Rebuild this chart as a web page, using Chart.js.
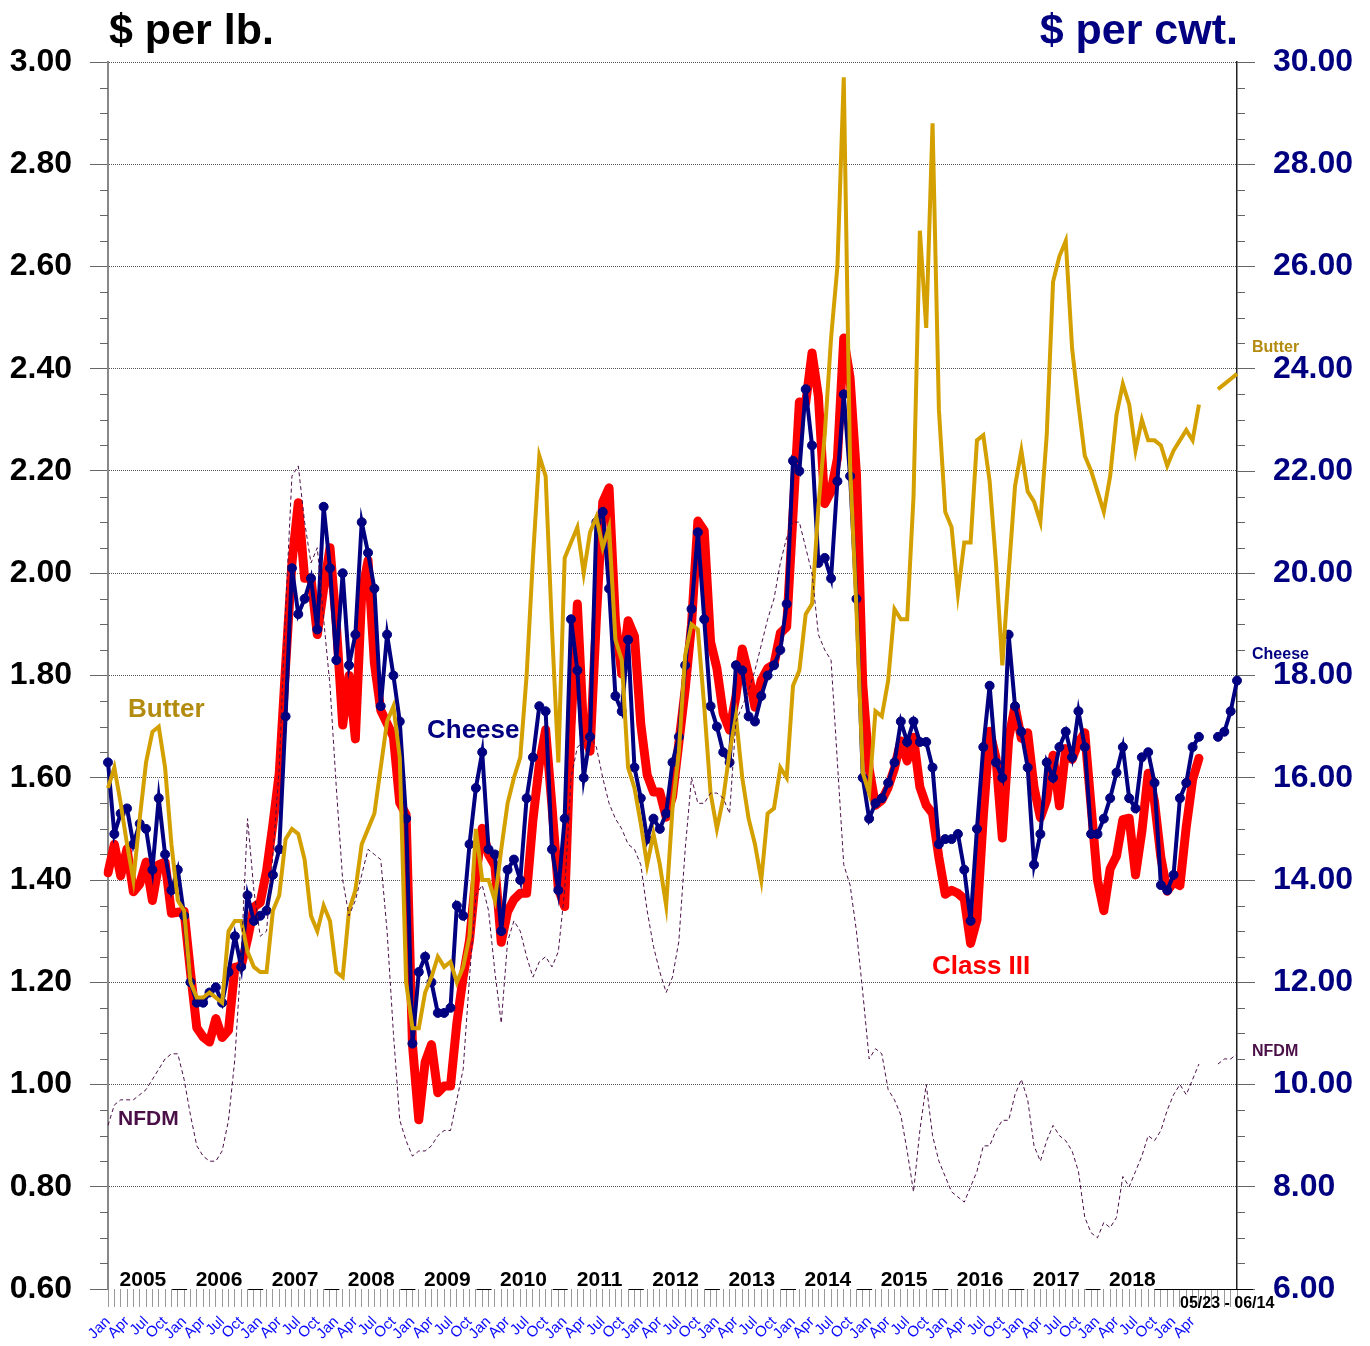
<!DOCTYPE html>
<html>
<head>
<meta charset="utf-8">
<title>Cheese, Butter, NFDM and Class III prices</title>
<script src="https://cdn.jsdelivr.net/npm/chart.js@4.4.1/dist/chart.umd.min.js"></script>
<style>
  html, body { margin: 0; padding: 0; background: #fff; }
  #wrap { position: relative; width: 1370px; height: 1346px; }
</style>
</head>
<body>
<div id="wrap"><canvas id="myChart" width="1370" height="1346"></canvas></div>
<script>
// setup
const FONT = 'Arial, "Liberation Sans", Helvetica, sans-serif';
const MONTH_NAMES = ['Jan', 'Feb', 'Mar', 'Apr', 'May', 'Jun', 'Jul', 'Aug', 'Sep', 'Oct', 'Nov', 'Dec'];
const YEARS = [2005, 2006, 2007, 2008, 2009, 2010, 2011, 2012, 2013, 2014, 2015, 2016, 2017, 2018];
const WEEKS = ['05/23', '05/30', '06/06', '06/14'];
const LEFT_TICKS = [0.60, 0.80, 1.00, 1.20, 1.40, 1.60, 1.80, 2.00, 2.20, 2.40, 2.60, 2.80, 3.00];
const RIGHT_TICKS = [6, 8, 10, 12, 14, 16, 18, 20, 22, 24, 26, 28, 30];

// monthly, Jan 2005 - May 2019, $ per lb.
const CHEESE = [
  1.63, 1.49, 1.53, 1.54, 1.47, 1.51, 1.50, 1.42, 1.56, 1.45, 1.38, 1.42,
  1.33, 1.20, 1.16, 1.16, 1.18, 1.19, 1.16, 1.22, 1.29, 1.23, 1.37, 1.32,
  1.33, 1.34, 1.41, 1.46, 1.72, 2.01, 1.92, 1.95, 1.99, 1.89, 2.13, 2.01,
  1.83, 2.00, 1.82, 1.88, 2.10, 2.04, 1.97, 1.74, 1.88, 1.80, 1.71, 1.52,
  1.08, 1.22, 1.25, 1.20, 1.14, 1.14, 1.15, 1.35, 1.33, 1.47, 1.58, 1.65,
  1.46, 1.45, 1.30, 1.42, 1.44, 1.40, 1.56, 1.64, 1.74, 1.73, 1.46, 1.38,
  1.52, 1.91, 1.81, 1.60, 1.68, 2.10, 2.12, 1.97, 1.76, 1.73, 1.87, 1.62,
  1.56, 1.48, 1.52, 1.50, 1.53, 1.63, 1.68, 1.82, 1.93, 2.08, 1.91, 1.74,
  1.70, 1.65, 1.63, 1.82, 1.81, 1.72, 1.71, 1.76, 1.80, 1.82, 1.85, 1.94,
  2.22, 2.20, 2.36, 2.25, 2.02, 2.03, 1.99, 2.18, 2.35, 2.19, 1.95, 1.60,
  1.52, 1.55, 1.56, 1.59, 1.63, 1.71, 1.67, 1.71, 1.67, 1.67, 1.62, 1.47,
  1.48, 1.48, 1.49, 1.42, 1.32, 1.50, 1.66, 1.78, 1.63, 1.60, 1.88, 1.74,
  1.69, 1.62, 1.43, 1.49, 1.63, 1.60, 1.66, 1.69, 1.64, 1.73, 1.66, 1.49,
  1.49, 1.52, 1.56, 1.61, 1.66, 1.56, 1.54, 1.64, 1.65, 1.59, 1.39, 1.38,
  1.41, 1.56, 1.59, 1.66, 1.68
];
const BUTTER = [
  1.58, 1.62, 1.55, 1.47, 1.40, 1.52, 1.63, 1.69, 1.70, 1.62, 1.47, 1.36,
  1.34, 1.20, 1.17, 1.17, 1.18, 1.17, 1.16, 1.30, 1.32, 1.32, 1.26, 1.23,
  1.22, 1.22, 1.34, 1.37, 1.48, 1.50, 1.49, 1.44, 1.33, 1.30, 1.35, 1.32,
  1.22, 1.21, 1.34, 1.38, 1.47, 1.50, 1.53, 1.62, 1.71, 1.74, 1.64, 1.20,
  1.11, 1.11, 1.18, 1.21, 1.25, 1.23, 1.24, 1.20, 1.23, 1.29, 1.50, 1.40,
  1.40, 1.36, 1.46, 1.55, 1.60, 1.64, 1.80, 2.03, 2.23, 2.19, 1.89, 1.63,
  2.03, 2.06, 2.09, 2.00, 2.08, 2.11, 2.05, 2.09, 1.87, 1.83, 1.62, 1.58,
  1.51, 1.43, 1.49, 1.43, 1.35, 1.54, 1.65, 1.84, 1.90, 1.89, 1.74, 1.57,
  1.50, 1.56, 1.65, 1.72, 1.60, 1.52, 1.47, 1.40, 1.53, 1.54, 1.62, 1.60,
  1.78, 1.81, 1.92, 1.94, 2.13, 2.27, 2.46, 2.60, 2.97, 2.21, 1.93, 1.61,
  1.57, 1.73, 1.72, 1.79, 1.93, 1.91, 1.91, 2.15, 2.67, 2.48, 2.88, 2.32,
  2.12, 2.09, 1.96, 2.06, 2.06, 2.26, 2.27, 2.18, 2.02, 1.82, 2.00, 2.17,
  2.24, 2.16, 2.14, 2.10, 2.27, 2.57, 2.62, 2.65, 2.44, 2.33, 2.23, 2.20,
  2.16, 2.12, 2.19, 2.31, 2.37, 2.33, 2.24, 2.30, 2.26, 2.26, 2.25, 2.21,
  2.24, 2.26, 2.28, 2.26, 2.33
];
const NFDM = [
  0.92, 0.96, 0.97, 0.97, 0.97, 0.98, 0.99, 1.01, 1.03, 1.05, 1.06, 1.06,
  1.01, 0.94, 0.88, 0.86, 0.85, 0.85, 0.87, 0.93, 1.05, 1.25, 1.52, 1.38,
  1.29, 1.30, 1.45, 1.62, 1.93, 2.19, 2.21, 2.10, 2.02, 2.05, 1.91, 1.78,
  1.58, 1.40, 1.33, 1.36, 1.41, 1.46, 1.45, 1.44, 1.30, 1.10, 0.93, 0.89,
  0.86, 0.87, 0.87, 0.88, 0.90, 0.91, 0.91, 0.97, 1.03, 1.21, 1.37, 1.39,
  1.34, 1.22, 1.12, 1.28, 1.32, 1.30, 1.25, 1.21, 1.24, 1.25, 1.23, 1.26,
  1.38, 1.60, 1.66, 1.67, 1.68, 1.66, 1.60, 1.55, 1.52, 1.50, 1.47, 1.46,
  1.43, 1.34, 1.27, 1.22, 1.18, 1.21, 1.28, 1.46, 1.60, 1.55, 1.55, 1.57,
  1.57, 1.56, 1.53, 1.71, 1.74, 1.77, 1.81, 1.86, 1.91, 1.95, 2.02, 2.07,
  2.10, 2.10, 2.05, 2.00, 1.88, 1.85, 1.83, 1.63, 1.43, 1.39, 1.30, 1.18,
  1.05, 1.07, 1.06, 0.99, 0.97, 0.94, 0.87, 0.79, 0.91, 1.00, 0.90, 0.85,
  0.82, 0.79, 0.78, 0.77, 0.80, 0.83, 0.88, 0.88, 0.91, 0.93, 0.93, 0.98,
  1.01, 0.97, 0.88, 0.85, 0.89, 0.92, 0.90, 0.89, 0.87, 0.83, 0.74, 0.71,
  0.70, 0.73, 0.72, 0.74, 0.82, 0.80, 0.83, 0.86, 0.90, 0.89, 0.91, 0.95,
  0.98, 1.00, 0.98, 1.01, 1.04
];
// monthly, $ per cwt.
const CLASS_III = [
  14.14, 14.70, 14.08, 14.61, 13.77, 13.92, 14.35, 13.60, 14.30, 14.35, 13.35, 13.37,
  13.39, 12.20, 11.11, 10.93, 10.83, 11.29, 10.92, 11.06, 12.29, 12.32, 12.84, 13.47,
  13.56, 14.18, 15.09, 16.09, 18.18, 20.20, 21.38, 19.90, 19.90, 18.80, 19.70, 20.50,
  19.00, 17.03, 18.00, 16.76, 19.60, 20.25, 18.24, 17.32, 17.06, 16.80, 15.51, 15.28,
  10.78, 9.31, 10.44, 10.78, 9.84, 9.97, 9.97, 11.20, 12.11, 12.82, 14.08, 15.01,
  14.50, 14.28, 12.78, 13.38, 13.62, 13.74, 13.74, 15.18, 16.26, 16.94, 15.44, 13.83,
  13.48, 17.00, 19.40, 16.87, 16.52, 19.11, 21.39, 21.67, 19.07, 18.03, 19.07, 18.77,
  17.05, 16.06, 15.72, 15.72, 15.23, 15.63, 16.68, 17.73, 19.00, 21.02, 20.83, 18.66,
  18.14, 17.25, 16.93, 17.59, 18.52, 18.02, 17.38, 17.91, 18.14, 18.22, 18.83, 18.95,
  21.15, 23.35, 23.33, 24.31, 23.46, 21.36, 21.60, 22.25, 24.60, 23.82, 21.94, 17.82,
  16.18, 15.46, 15.56, 15.81, 16.19, 16.72, 16.33, 16.79, 15.82, 15.46, 15.30, 14.44,
  13.72, 13.80, 13.74, 13.63, 12.76, 13.22, 15.24, 16.91, 16.39, 14.82, 16.76, 17.40,
  16.77, 16.88, 15.81, 15.22, 15.57, 16.44, 15.45, 16.57, 16.36, 16.69, 16.88, 15.44,
  14.00, 13.40, 14.22, 14.47, 15.18, 15.21, 14.10, 14.95, 16.09, 15.53, 14.44, 13.78,
  13.96, 13.89, 15.04, 15.96, 16.38
];
// weekly, 05/23 - 06/14
const CHEESE_WEEKLY = [1.68, 1.69, 1.73, 1.79];
const BUTTER_WEEKLY = [2.36, 2.37, 2.38, 2.39];
const NFDM_WEEKLY = [1.04, 1.05, 1.05, 1.06];

// categories: months, two empty slots, then the weeks
const labels = [];
for (let y = 2005; y <= 2019; y++) {
  for (let m = 0; m < 12; m++) {
    if (labels.length < CHEESE.length) labels.push(MONTH_NAMES[m] + ' ' + y);
  }
}
const N_MONTHS = labels.length;
labels.push('', '', ...WEEKS);

const pad = (monthly, weekly) => {
  const out = monthly.slice();
  out.push(null, null);
  for (let i = 0; i < WEEKS.length; i++) out.push(weekly ? weekly[i] : null);
  return out;
};

const data = {
  labels,
  datasets: [{
    label: 'NFDM',
    data: pad(NFDM, NFDM_WEEKLY),
    borderColor: '#4B0F48',
    borderWidth: 1,
    borderDash: [4, 3],
    pointRadius: 0,
    yAxisID: 'y',
    order: 1
  }, {
    label: 'Butter',
    data: pad(BUTTER, BUTTER_WEEKLY),
    borderColor: '#D4A000',
    borderWidth: 4,
    pointRadius: 0,
    yAxisID: 'y',
    order: 2
  }, {
    label: 'Cheese',
    data: pad(CHEESE, CHEESE_WEEKLY),
    borderColor: '#000080',
    borderWidth: 4,
    pointRadius: 4.5,
    pointBorderWidth: 1,
    pointBackgroundColor: '#000080',
    pointBorderColor: '#000080',
    yAxisID: 'y',
    order: 3
  }, {
    label: 'Class III',
    data: pad(CLASS_III, null),
    borderColor: '#FF0000',
    borderWidth: 9,
    borderJoinStyle: 'round',
    borderCapStyle: 'round',
    pointRadius: 0,
    yAxisID: 'y2',
    order: 4
  }]
};

// titles, in-plot labels, year labels and minor ticks
const decor = {
  id: 'decor',
  afterDraw(chart) {
    const { ctx, chartArea: a, scales: { x, y } } = chart;
    ctx.save();

    // minor ticks every 0.05
    ctx.strokeStyle = '#666';
    ctx.lineWidth = 1;
    for (let k = 0; k <= 48; k++) {
      if (k % 4 === 0) continue;
      const py = Math.round(y.getPixelForValue(0.6 + k * 0.05)) + 0.5;
      ctx.beginPath();
      ctx.moveTo(a.left - 8, py); ctx.lineTo(a.left, py);
      ctx.moveTo(a.right, py); ctx.lineTo(a.right + 8, py);
      ctx.stroke();
    }

    // short base segments at the year breaks
    ctx.strokeStyle = '#000';
    ctx.beginPath();
    for (let k = 1; k < YEARS.length; k++) {
      const xj = x.getPixelForValue(k * 12);
      ctx.moveTo(xj - 12, a.bottom + 0.5); ctx.lineTo(xj + 3, a.bottom + 0.5);
    }
    ctx.moveTo(x.getPixelForValue(165), a.bottom + 0.5);
    ctx.lineTo(a.right + 16, a.bottom + 0.5);
    ctx.stroke();

    // year labels
    ctx.fillStyle = '#000';
    ctx.font = 'bold 21px ' + FONT;
    ctx.textAlign = 'center';
    ctx.textBaseline = 'middle';
    YEARS.forEach((yr, k) => {
      const cx = (x.getPixelForValue(k * 12) + x.getPixelForValue(k * 12 + 11)) / 2;
      ctx.fillText(String(yr), cx, 1280);
    });

    ctx.textAlign = 'left';
    ctx.font = 'bold 16px ' + FONT;
    ctx.fillText(WEEKS[0] + ' - ' + WEEKS[WEEKS.length - 1], 1180, 1304);

    // axis titles
    ctx.textBaseline = 'alphabetic';
    ctx.font = 'bold 43px ' + FONT;
    ctx.fillStyle = '#000';
    ctx.fillText('$ per lb.', 109, 44);
    ctx.textAlign = 'right';
    ctx.fillStyle = '#000080';
    ctx.fillText('$ per cwt.', 1238, 44);

    // series labels inside the plot
    ctx.textAlign = 'left';
    ctx.textBaseline = 'middle';
    ctx.font = 'bold 26px ' + FONT;
    ctx.fillStyle = '#B38B0E';
    ctx.fillText('Butter', 128, 710);
    ctx.fillStyle = '#000080';
    ctx.fillText('Cheese', 427, 731);
    ctx.fillStyle = '#FF0000';
    ctx.fillText('Class III', 932, 967);
    ctx.font = 'bold 21px ' + FONT;
    ctx.fillStyle = '#4B0F48';
    ctx.fillText('NFDM', 118, 1119);

    // series labels at the right edge
    ctx.font = 'bold 16px ' + FONT;
    ctx.fillStyle = '#B38B0E';
    ctx.fillText('Butter', 1252, 348);
    ctx.fillStyle = '#000080';
    ctx.fillText('Cheese', 1252, 655);
    ctx.fillStyle = '#4B0F48';
    ctx.fillText('NFDM', 1252, 1052);

    ctx.restore();
  }
};

// config
const config = {
  type: 'line',
  data,
  plugins: [decor],
  options: {
    responsive: false,
    animation: false,
    spanGaps: false,
    layout: { padding: { top: 62, left: 0, right: 0, bottom: 0 } },
    plugins: {
      legend: { display: false },
      tooltip: { enabled: false }
    },
    scales: {
      x: {
        type: 'category',
        offset: false,
        afterFit(s) { s.height = 57; },
        grid: { drawOnChartArea: false, tickLength: 18, color: '#999', tickColor: '#999' },
        border: { display: false },
        ticks: {
          autoSkip: false,
          minRotation: 45,
          maxRotation: 45,
          padding: 6,
          color: '#0a0aff',
          font: { family: FONT, size: 15 },
          callback(value, index) {
            if (index >= N_MONTHS) return '';
            const m = index % 12;
            return m % 3 === 0 ? MONTH_NAMES[m] : '';
          }
        }
      },
      y: {
        position: 'left',
        min: 0.6,
        max: 3.0,
        afterFit(s) { s.width = 108; },
        afterBuildTicks(s) { s.ticks = LEFT_TICKS.map(v => ({ value: v })); },
        grid: {
          color: (c) => (c.tick && Math.abs(c.tick.value - 0.6) < 1e-6 ? 'rgba(0,0,0,0)' : '#555'),
          tickColor: '#666',
          tickLength: 18,
          lineWidth: 1
        },
        border: { display: true, color: '#888', width: 2, dash: [1, 1] },
        ticks: {
          padding: 18,
          color: '#000',
          font: { family: FONT, size: 32, weight: 'bold' },
          callback: (v) => Number(v).toFixed(2)
        }
      },
      y2: {
        position: 'right',
        min: 6,
        max: 30,
        afterFit(s) { s.width = 133; },
        afterBuildTicks(s) { s.ticks = RIGHT_TICKS.map(v => ({ value: v })); },
        grid: { drawOnChartArea: false, tickColor: '#666', tickLength: 18 },
        border: { display: true, color: '#222', width: 1.5 },
        ticks: {
          padding: 18,
          color: '#000080',
          font: { family: FONT, size: 32, weight: 'bold' },
          callback: (v) => Number(v).toFixed(2)
        }
      }
    }
  }
};

// render init block
const myChart = new Chart(document.getElementById('myChart'), config);
</script>
</body>
</html>
